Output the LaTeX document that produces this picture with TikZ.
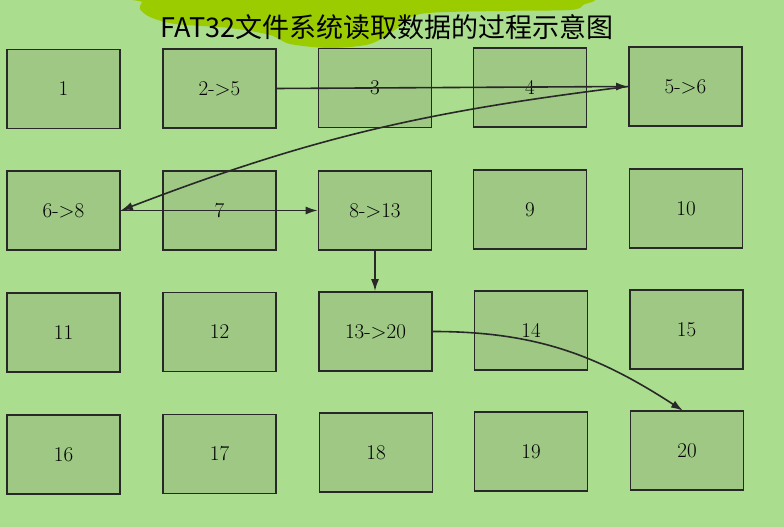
\documentclass[tikz,border=0pt]{standalone}
\usepackage{fontspec}
\newfontfamily\cjk{Noto Sans CJK SC}
\usetikzlibrary{arrows.meta}
\definecolor{bg}{RGB}{171,221,143}
\definecolor{boxfill}{RGB}{158,200,132}
\definecolor{hl}{RGB}{155,204,0}
\definecolor{edge}{RGB}{40,40,40}
\begin{document}
\begin{tikzpicture}[x=1pt,y=1pt,
  blk/.style={draw=edge, line width=1.7pt, fill=boxfill, minimum width=113pt, minimum height=79pt, inner sep=0pt, font=\fontsize{21}{21}\selectfont},
  link/.style={draw=edge, line width=1.6pt, -{Latex[length=12pt,width=8pt]}}]
\fill[bg] (0,0) rectangle (784,527);
\useasboundingbox (0,0) rectangle (784,527);
% highlight
\fill[hl] plot[smooth cycle, tension=0.5] coordinates {(142,525) (140,518) (150,510) (175,503) (230,499) (270,492) (290,483) (330,479) (370,483) (395,497) (420,513) (500,516) (570,517) (583,522) (580,529) (360,530) (142,529)};
\node[font=\cjk\fontsize{27}{27}\selectfont, inner sep=0pt] (title) at (387,500) {FAT32文件系统读取数据的过程示意图};
% boxes
\node[blk] (b1) at (63.5,438) {1};
\node[blk] (b2) at (219.5,438.5) {2->5};
\node[blk] (b3) at (375,439) {3};
\node[blk] (b4) at (530,439.5) {4};
\node[blk] (b5) at (685.5,440.5) {5->6};
\node[blk] (b6) at (63.5,316.5) {6->8};
\node[blk] (b7) at (219.5,316.5) {7};
\node[blk] (b8) at (375,316.5) {8->13};
\node[blk] (b9) at (530,317.5) {9};
\node[blk] (b10) at (686,318.5) {10};
\node[blk] (b11) at (63.5,194.5) {11};
\node[blk] (b12) at (219.5,195) {12};
\node[blk] (b13) at (375.5,195.5) {13->20};
\node[blk] (b14) at (531,196.5) {14};
\node[blk] (b15) at (686.5,197.5) {15};
\node[blk] (b16) at (63.5,72.5) {16};
\node[blk] (b17) at (219.5,73) {17};
\node[blk] (b18) at (376,74.5) {18};
\node[blk] (b19) at (531,75.5) {19};
\node[blk] (b20) at (687,76.5) {20};
\coordinate (t20) at (683,116.3);
% connectors
\draw[link] (b2.east) -- (b5.west);
\draw[link] (b5.west) to[out=187,in=21] (b6.east);
\draw[link] (b6.east) -- (b8.west);
\draw[link] (b8.south) -- (b8.south |- b13.north);
\draw[link] (b13.east) to[out=0,in=147] (t20);
\end{tikzpicture}
\end{document}
